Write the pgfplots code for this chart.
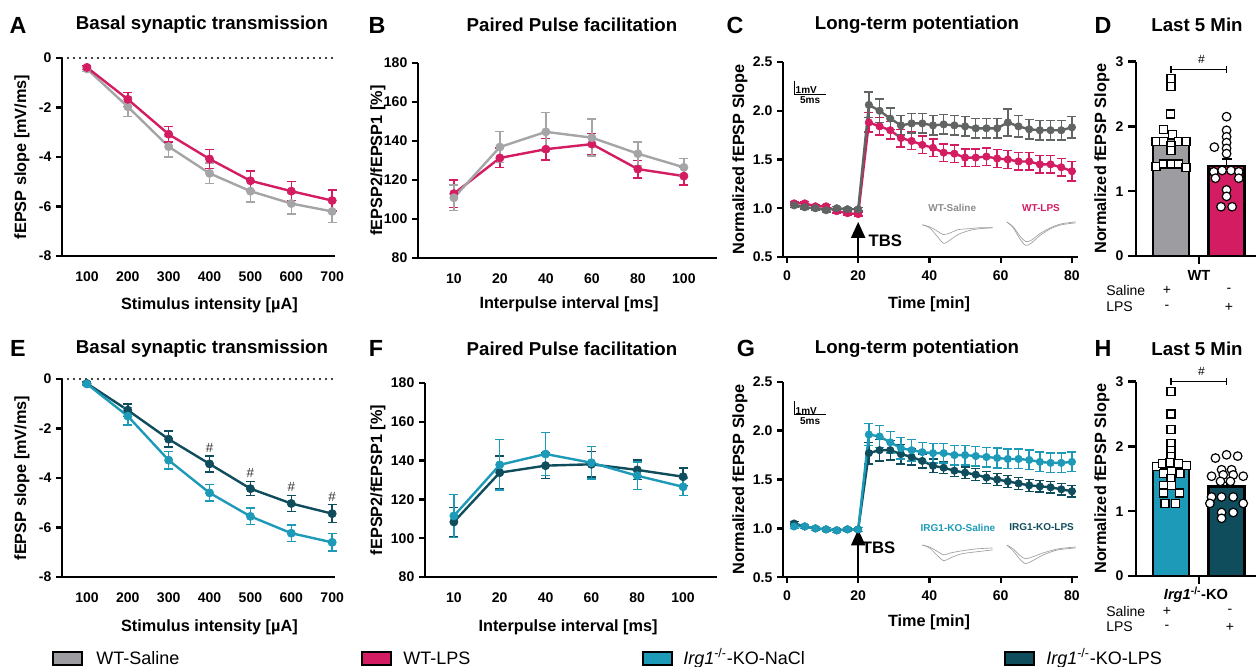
\documentclass[border=0pt]{standalone}
\usepackage{fontspec}
\setmainfont{Liberation Sans}
\usepackage{pgfplots}
\pgfplotsset{compat=1.18}
\usetikzlibrary{arrows.meta}
\newlength\pu \setlength\pu{0.75pt}
\newcommand\fs[1]{\fontsize{#1}{#1}\selectfont}
\definecolor{wtgray}{RGB}{165,165,168}
\definecolor{wtdark}{RGB}{96,100,98}
\definecolor{bargray}{RGB}{157,157,161}
\definecolor{lps}{RGB}{212,28,98}
\definecolor{ko}{RGB}{29,154,184}
\definecolor{kolps}{RGB}{15,77,93}

\pgfplotsset{
  panel/.style={scale only axis, anchor=south west, clip=false,
    axis x line*=bottom, axis y line*=left,
    axis line style={line width=1.7pt, black},
    every tick/.style={black, line width=1.7pt},
    major tick length=6\pu, tick align=outside,
    tick label style={font=\fs{10.5}\bfseries},
    label style={font=\fs{12.2}\bfseries},
    /pgf/number format/assume math mode=true,
  },
  ylab/.style={ylabel style={at={([xshift=-#1\pu]axis description cs:0,0.5)}, anchor=center}},
  xlab/.style 2 args={xlabel style={at={([yshift=-#2\pu]axis description cs:#1,0)}, anchor=center}},
  ser/.style={color=#1, line width=1.8pt, mark=*, mark size=4.1\pu,
    mark options={solid, fill=#1, draw=#1, line width=0.5pt},
    error bars/y dir=both, error bars/y explicit,
    error bars/error bar style={line width=1.1pt, color=#1},
    error bars/error mark options={rotate=90, mark size=4.5\pu, line width=1.1pt, color=#1}},
  trace/.style={gray!75, line width=0.5pt, smooth, no marks, forget plot},
  bar/.style={ybar, bar width=27pt, bar shift=0pt, fill=#1, draw=black, line width=1.7pt,
    error bars/y dir=plus, error bars/y explicit,
    error bars/error bar style={line width=1.2pt, black},
    error bars/error mark options={rotate=90, mark size=3.75pt, line width=1.2pt, black}},
  sq/.style={only marks, mark=square*, mark size=4\pu, mark options={fill=white, draw=black, line width=0.9pt}},
  ci/.style={only marks, mark=*, mark size=4.3\pu, mark options={fill=white, draw=black, line width=0.9pt}},
  zero/.style={black, line width=1.8pt, line cap=round, dash pattern=on 0pt off 6\pu, forget plot},
  brk/.style={black, line width=1pt, forget plot},
}

\begin{document}
\begin{tikzpicture}
\useasboundingbox (0,0) rectangle (1256\pu,-667\pu);

% ---------- A
\begin{axis}[panel, at={(62\pu,-256\pu)}, width=273\pu, height=198\pu,
  xmin=39, xmax=707, ymin=-8, ymax=0,
  xtick={100,200,...,700}, ytick={-8,-6,...,0},
  xtick style={draw=none}, x tick label style={yshift=-5\pu},
  xlabel={Stimulus intensity [µA]}, ylabel={fEPSP slope [mV/ms]},
  xlab={0.54}{49}, ylab=40]
\addplot[zero] coordinates {(39,0) (707,0)};
\addplot[ser=wtgray] coordinates {(100,-0.44)+-(0,0.1) (200,-1.97)+-(0,0.4) (300,-3.58)+-(0,0.42) (400,-4.66)+-(0,0.42) (500,-5.38)+-(0,0.43) (600,-5.88)+-(0,0.43) (700,-6.2)+-(0,0.45)};
\addplot[ser=lps] coordinates {(100,-0.38)+-(0,0.08) (200,-1.67)+-(0,0.28) (300,-3.08)+-(0,0.32) (400,-4.08)+-(0,0.38) (500,-4.96)+-(0,0.4) (600,-5.38)+-(0,0.38) (700,-5.76)+-(0,0.42)};
\end{axis}

% ---------- B
\begin{axis}[panel, at={(418\pu,-258\pu)}, width=299\pu, height=195\pu,
  xmin=-0.78, xmax=5.72, ymin=80, ymax=180,
  xtick={0,...,5}, xticklabels={10,20,40,60,80,100}, ytick={80,100,...,180},
  xtick style={draw=none}, x tick label style={yshift=-5\pu},
  xlabel={Interpulse interval [ms]}, ylabel={fEPSP2/fEPSP1 [\%]},
  xlab={0.505}{46}, ylab=40]
\addplot[ser=lps] coordinates {(0,113)+-(0,7) (1,131.3)+-(0,5) (2,135.8)+-(0,5.5) (3,138.4)+-(0,5.5) (4,125.6)+-(0,4.5) (5,122)+-(0,4.5)};
\addplot[ser=wtgray] coordinates {(0,110.9)+-(0,6.5) (1,136.9)+-(0,8) (2,144.7)+-(0,10) (3,141.7)+-(0,9.5) (4,133.5)+-(0,6) (5,126.5)+-(0,4.5)};
\end{axis}

% ---------- C
\begin{axis}[panel, at={(783\pu,-257\pu)}, width=295\pu, height=195\pu,
  xmin=-1.1, xmax=81.7, ymin=0.5, ymax=2.5,
  xtick={0,20,...,80}, ytick={0.5,1,...,2.5},
  y tick label style={/pgf/number format/.cd,fixed,fixed zerofill,precision=1,/tikz/.cd},
  x tick label style={yshift=-3\pu},
  xlabel={Time [min]}, ylabel={Normalized fEPSP Slope},
  xlab={0.495}{47}, ylab=43]
\addplot[ser=lps, mark size=3.7\pu] coordinates {
 (2,1.05)+-(0,0.02) (5,1.05)+-(0,0.02) (8,1.02)+-(0,0.02) (11,1.02)+-(0,0.02) (14,0.97)+-(0,0.02) (17,0.95)+-(0,0.02) (20,0.94)+-(0,0.02)
 (23,1.88)+-(0,0.1) (26,1.84)+-(0,0.09) (29,1.80)+-(0,0.09) (32,1.72)+-(0,0.09) (35,1.69)+-(0,0.09) (38,1.65)+-(0,0.09) (41,1.62)+-(0,0.09)
 (44,1.57)+-(0,0.09) (47,1.56)+-(0,0.09) (50,1.52)+-(0,0.09) (53,1.52)+-(0,0.09) (56,1.53)+-(0,0.09) (59,1.51)+-(0,0.09) (62,1.50)+-(0,0.09)
 (65,1.48)+-(0,0.09) (68,1.48)+-(0,0.09) (71,1.45)+-(0,0.09) (74,1.45)+-(0,0.09) (77,1.42)+-(0,0.09) (80,1.38)+-(0,0.1)};
\addplot[ser=wtdark, mark size=3.7\pu] coordinates {
 (2,1.03)+-(0,0.02) (5,1.01)+-(0,0.02) (8,1.00)+-(0,0.02) (11,0.98)+-(0,0.02) (14,1.00)+-(0,0.02) (17,0.99)+-(0,0.02) (20,0.99)+-(0,0.02)
 (23,2.06)+-(0,0.13) (26,2.00)+-(0,0.12) (29,1.92)+-(0,0.11) (32,1.85)+-(0,0.1) (35,1.87)+-(0,0.1) (38,1.87)+-(0,0.1) (41,1.85)+-(0,0.1)
 (44,1.86)+-(0,0.1) (47,1.85)+-(0,0.1) (50,1.84)+-(0,0.1) (53,1.82)+-(0,0.1) (56,1.82)+-(0,0.1) (59,1.82)+-(0,0.1) (62,1.88)+-(0,0.14)
 (65,1.84)+-(0,0.11) (68,1.81)+-(0,0.1) (71,1.80)+-(0,0.1) (74,1.80)+-(0,0.1) (77,1.80)+-(0,0.1) (80,1.83)+-(0,0.11)};
\addplot[trace] coordinates {(38,0.83) (40,0.80) (42,0.72) (44,0.64) (46,0.68) (48,0.73) (51,0.77) (54,0.79) (57.7,0.80)};
\addplot[trace] coordinates {(38,0.83) (40,0.81) (42,0.77) (44,0.73) (46,0.75) (48,0.78) (51,0.79) (54,0.80) (57.7,0.80)};
\addplot[trace] coordinates {(61.7,0.86) (63.5,0.80) (65.5,0.68) (67,0.62) (68.5,0.64) (71,0.72) (74,0.79) (77,0.83) (81,0.85)};
\addplot[trace] coordinates {(61.7,0.86) (63.5,0.81) (65.5,0.71) (67,0.66) (68.5,0.67) (71,0.74) (74,0.80) (77,0.84) (81,0.86)};
\addplot[brk, line width=0.7pt] coordinates {(2,2.31) (2,2.17) (11,2.17)};
\node[anchor=south west, font=\fs{7.5}\bfseries, inner sep=0.5pt] at (axis cs:2.2,2.17) {1mV};
\node[anchor=north, font=\fs{7.5}\bfseries, inner sep=1pt] at (axis cs:6.5,2.16) {5ms};
\node[font=\fs{7.5}\bfseries, text=wtgray!85!black] at (axis cs:46.4,1.0) {WT-Saline};
\node[font=\fs{7.5}\bfseries, text=lps] at (axis cs:71.3,1.0) {WT-LPS};
\draw[line width=1.7pt, -{Triangle[width=10.5pt,length=12pt]}] (axis cs:20,0.5) -- (axis cs:20,0.86);
\node[font=\fs{12.5}\bfseries] at (axis cs:27.6,0.667) {TBS};
\end{axis}

% ---------- D
\begin{axis}[panel, at={(1136\pu,-256\pu)}, width=120\pu, height=194.4\pu,
  xmin=-0.63, xmax=1.53, ymin=0, ymax=3,
  ytick={0,1,2,3}, xtick={0.5}, xticklabels={}, major tick length=6pt,
  ylabel={Normalized fEPSP Slope}, ylab=34]
\addplot[bar=bargray] coordinates {(0,1.80)+-(0,0.11)};
\addplot[bar=lps] coordinates {(1,1.39)+-(0,0.11)};
\addplot[sq] coordinates {(0,2.74) (0,2.62) (-0.01,2.19) (-0.14,1.95) (0.02,1.88) (-0.27,1.77) (-0.14,1.77) (0.13,1.77) (0.27,1.77) (0,1.70) (0,1.63) (-0.27,1.38) (-0.14,1.42) (0,1.42) (0.13,1.42) (0.27,1.37)};
\addplot[ci] coordinates {(1,2.15) (1,1.94) (1,1.84) (1,1.75) (0.78,1.68) (1,1.66) (1,1.58) (0.77,1.30) (0.92,1.32) (1.08,1.32) (1.22,1.30) (0.8,1.20) (1.22,1.20) (1,1.02) (1,0.92) (0.9,0.76) (1.1,0.76)};
\addplot[brk] coordinates {(0,2.83) (0,2.93)};
\addplot[brk] coordinates {(1,2.83) (1,2.93)};
\addplot[brk] coordinates {(0,2.88) (1,2.88)};
\node[font=\fs{9}] at (axis cs:0.55,3.03) {\#};
\end{axis}

% ---------- E
\begin{axis}[panel, at={(62\pu,-577\pu)}, width=273\pu, height=198\pu,
  xmin=39, xmax=707, ymin=-8, ymax=0,
  xtick={100,200,...,700}, ytick={-8,-6,...,0},
  xtick style={draw=none}, x tick label style={yshift=-5\pu},
  xlabel={Stimulus intensity [µA]}, ylabel={fEPSP slope [mV/ms]},
  xlab={0.54}{50}, ylab=40]
\addplot[zero] coordinates {(39,0) (707,0)};
\addplot[ser=kolps] coordinates {(100,-0.18)+-(0,0.05) (200,-1.26)+-(0,0.25) (300,-2.43)+-(0,0.32) (400,-3.43)+-(0,0.32) (500,-4.43)+-(0,0.28) (600,-5.03)+-(0,0.32) (700,-5.44)+-(0,0.36)};
\addplot[ser=ko] coordinates {(100,-0.2)+-(0,0.05) (200,-1.5)+-(0,0.35) (300,-3.28)+-(0,0.35) (400,-4.6)+-(0,0.33) (500,-5.55)+-(0,0.33) (600,-6.23)+-(0,0.33) (700,-6.6)+-(0,0.35)};
\node[font=\fs{10}, text=black!80] at (axis cs:400,-2.78) {\#};
\node[font=\fs{10}, text=black!80] at (axis cs:500,-3.8) {\#};
\node[font=\fs{10}, text=black!80] at (axis cs:600,-4.37) {\#};
\node[font=\fs{10}, text=black!80] at (axis cs:700,-4.76) {\#};
\end{axis}

% ---------- F
\begin{axis}[panel, at={(425\pu,-577\pu)}, width=292\pu, height=194\pu,
  xmin=-0.63, xmax=5.74, ymin=80, ymax=180,
  xtick={0,...,5}, xticklabels={10,20,40,60,80,100}, ytick={80,100,...,180},
  xtick style={draw=none}, x tick label style={yshift=-5\pu},
  xlabel={Interpulse interval [ms]}, ylabel={fEPSP2/fEPSP1 [\%]},
  xlab={0.49}{50}, ylab=47]
\addplot[ser=kolps] coordinates {(0,108.4)+-(0,7.5) (1,133.8)+-(0,8.5) (2,137.4)+-(0,6.5) (3,138.1)+-(0,6.5) (4,135.2)+-(0,5) (5,131.7)+-(0,4.5)};
\addplot[ser=ko] coordinates {(0,111.5)+-(0,11) (1,137.8)+-(0,13) (2,143.4)+-(0,11) (3,138.9)+-(0,8.5) (4,132.2)+-(0,7) (5,126.5)+-(0,4.5)};
\end{axis}

% ---------- G
\begin{axis}[panel, at={(783\pu,-577.3\pu)}, width=295\pu, height=195.6\pu,
  xmin=-1.1, xmax=81.7, ymin=0.5, ymax=2.5,
  xtick={0,20,...,80}, ytick={0.5,1,...,2.5},
  y tick label style={/pgf/number format/.cd,fixed,fixed zerofill,precision=1,/tikz/.cd},
  x tick label style={yshift=-3\pu},
  xlabel={Time [min]}, ylabel={Normalized fEPSP Slope},
  xlab={0.495}{45}, ylab=43]
\addplot[ser=kolps, mark size=3.7\pu] coordinates {
 (2,1.05)+-(0,0.02) (5,1.02)+-(0,0.02) (8,1.00)+-(0,0.02) (11,0.99)+-(0,0.02) (14,0.98)+-(0,0.02) (17,0.99)+-(0,0.02) (20,0.99)+-(0,0.02)
 (23,1.77)+-(0,0.11) (26,1.80)+-(0,0.11) (29,1.80)+-(0,0.1) (32,1.76)+-(0,0.1) (35,1.73)+-(0,0.08) (38,1.69)+-(0,0.07) (41,1.64)+-(0,0.07)
 (44,1.62)+-(0,0.06) (47,1.59)+-(0,0.06) (50,1.57)+-(0,0.06) (53,1.55)+-(0,0.06) (56,1.52)+-(0,0.06) (59,1.50)+-(0,0.06) (62,1.48)+-(0,0.06)
 (65,1.46)+-(0,0.06) (68,1.44)+-(0,0.06) (71,1.43)+-(0,0.06) (74,1.42)+-(0,0.06) (77,1.40)+-(0,0.06) (80,1.38)+-(0,0.06)};
\addplot[ser=ko, mark size=3.7\pu] coordinates {
 (2,1.02)+-(0,0.02) (5,1.02)+-(0,0.02) (8,1.00)+-(0,0.02) (11,0.99)+-(0,0.02) (14,0.98)+-(0,0.02) (17,0.99)+-(0,0.02) (20,0.99)+-(0,0.02)
 (23,1.96)+-(0,0.11) (26,1.94)+-(0,0.11) (29,1.88)+-(0,0.11) (32,1.82)+-(0,0.11) (35,1.80)+-(0,0.11) (38,1.78)+-(0,0.1) (41,1.77)+-(0,0.1)
 (44,1.77)+-(0,0.1) (47,1.75)+-(0,0.1) (50,1.75)+-(0,0.1) (53,1.74)+-(0,0.1) (56,1.73)+-(0,0.1) (59,1.72)+-(0,0.1) (62,1.71)+-(0,0.1)
 (65,1.71)+-(0,0.1) (68,1.70)+-(0,0.1) (71,1.68)+-(0,0.1) (74,1.67)+-(0,0.1) (77,1.67)+-(0,0.1) (80,1.68)+-(0,0.1)};
\addplot[trace] coordinates {(38,0.83) (40,0.80) (42,0.73) (44,0.67) (46,0.70) (49,0.74) (53,0.76) (57.7,0.78)};
\addplot[trace] coordinates {(38,0.83) (40,0.81) (42,0.77) (44,0.73) (46,0.75) (49,0.77) (53,0.79) (57.7,0.80)};
\addplot[trace] coordinates {(61.7,0.83) (63.5,0.77) (65.5,0.68) (67,0.64) (69,0.67) (72,0.73) (76,0.78) (81,0.80)};
\addplot[trace] coordinates {(61.7,0.83) (63.5,0.79) (65.5,0.72) (67,0.69) (69,0.71) (72,0.75) (76,0.79) (81,0.81)};
\addplot[brk, line width=0.7pt] coordinates {(2,2.30) (2,2.16) (11,2.16)};
\node[anchor=south west, font=\fs{7.5}\bfseries, inner sep=0.5pt] at (axis cs:2.2,2.16) {1mV};
\node[anchor=north, font=\fs{7.5}\bfseries, inner sep=1pt] at (axis cs:6.5,2.15) {5ms};
\node[font=\fs{7.5}\bfseries, text=ko] at (axis cs:48,1.01) {IRG1-KO-Saline};
\node[font=\fs{7.5}\bfseries, text=kolps] at (axis cs:71.5,1.01) {IRG1-KO-LPS};
\draw[line width=1.7pt, -{Triangle[width=10.5pt,length=12pt]}] (axis cs:20,0.5) -- (axis cs:20,0.99);
\node[font=\fs{12.5}\bfseries] at (axis cs:25.7,0.80) {TBS};
\end{axis}

% ---------- H
\begin{axis}[panel, at={(1136\pu,-576\pu)}, width=120\pu, height=194.4\pu,
  xmin=-0.63, xmax=1.53, ymin=0, ymax=3,
  ytick={0,1,2,3}, xtick={0.5}, xticklabels={}, major tick length=6pt,
  ylabel={Normalized fEPSP Slope}, ylab=34]
\addplot[bar=ko] coordinates {(0,1.67)+-(0,0.1)};
\addplot[bar=kolps] coordinates {(1,1.38)+-(0,0.06)};
\addplot[sq] coordinates {(0,2.85) (0,2.50) (0,2.26) (0,2.05) (0,1.94) (0,1.84) (-0.26,1.69) (-0.15,1.74) (-0.02,1.75) (0.13,1.74) (0.28,1.70) (-0.14,1.58) (0.01,1.61) (0.16,1.58) (0,1.51) (-0.14,1.40) (0.01,1.40) (-0.14,1.28) (0.15,1.28) (-0.11,1.12) (0.08,1.12)};
\addplot[ci] coordinates {(0.8,1.82) (1,1.87) (1.2,1.85) (0.91,1.64) (1.09,1.64) (0.73,1.54) (0.94,1.56) (1.12,1.56) (1.3,1.54) (0.89,1.46) (1.07,1.46) (0.73,1.22) (0.91,1.22) (1.12,1.22) (0.7,1.12) (1.3,1.12) (0.91,0.98) (1.12,0.98) (0.91,0.89)};
\addplot[brk] coordinates {(0,2.95) (0,3.06)};
\addplot[brk] coordinates {(1,2.95) (1,3.06)};
\addplot[brk] coordinates {(0,3.0) (1,3.0)};
\node[font=\fs{9}] at (axis cs:0.55,3.15) {\#};
\end{axis}

% ---------- titles and panel letters
\foreach \l/\x/\y in {A/18/25, B/377/25, C/735/25, D/1103/25, E/18/348, F/376/348, G/746/348, H/1103/348}
  \node[font=\fs{17.5}\bfseries] at (\x\pu,-\y\pu) {\l};
\foreach \t/\x/\y in {Basal synaptic transmission/202/25, Paired Pulse facilitation/572/25, Long-term potentiation/917/25, Last 5 Min/1197/25,
  Basal synaptic transmission/202/349, Paired Pulse facilitation/572/349, Long-term potentiation/917/349, Last 5 Min/1197/349}
  \node[font=\fs{14}\bfseries] at (\x\pu,-\y\pu) {\t};

% ---------- group labels under D and H
\begin{scope}[every node/.style={inner sep=0pt}]
\node[font=\fs{11}\bfseries] at (1199\pu,-275\pu) {WT};
\node[font=\fs{10.5}, anchor=west] at (1106\pu,-290\pu) {Saline};
\node[font=\fs{10.5}, anchor=west] at (1106\pu,-307\pu) {LPS};
\node[font=\fs{10.5}] at (1167\pu,-290\pu) {+};
\node[font=\fs{10.5}] at (1229\pu,-290\pu) {-};
\node[font=\fs{10.5}] at (1167\pu,-307\pu) {-};
\node[font=\fs{10.5}] at (1229\pu,-307\pu) {+};
\node[font=\fs{11}\bfseries] at (1196\pu,-595\pu) {\textit{Irg1}\textsuperscript{-/-}-KO};
\node[font=\fs{10.5}, anchor=west] at (1106\pu,-611\pu) {Saline};
\node[font=\fs{10.5}, anchor=west] at (1106\pu,-627\pu) {LPS};
\node[font=\fs{10.5}] at (1167\pu,-611\pu) {+};
\node[font=\fs{10.5}] at (1230\pu,-611\pu) {-};
\node[font=\fs{10.5}] at (1167\pu,-627\pu) {-};
\node[font=\fs{10.5}] at (1230\pu,-627\pu) {+};
\end{scope}

% ---------- legend
\foreach \c/\x in {bargray/53, lps/362, ko/643, kolps/1005}
  \filldraw[fill=\c, draw=black, line width=1.2pt] (\x\pu,-652\pu) rectangle ++(29\pu,-13\pu);
\node[font=\fs{13.5}, anchor=west, inner sep=0pt] at (96\pu,-658\pu) {WT-Saline};
\node[font=\fs{13.5}, anchor=west, inner sep=0pt] at (403\pu,-658\pu) {WT-LPS};
\node[font=\fs{13.5}, anchor=west, inner sep=0pt] at (683\pu,-658\pu) {\textit{Irg1}\textsuperscript{-/-}-KO-NaCl};
\node[font=\fs{13.5}, anchor=west, inner sep=0pt] at (1046\pu,-658\pu) {\textit{Irg1}\textsuperscript{-/-}-KO-LPS};
\end{tikzpicture}
\end{document}
